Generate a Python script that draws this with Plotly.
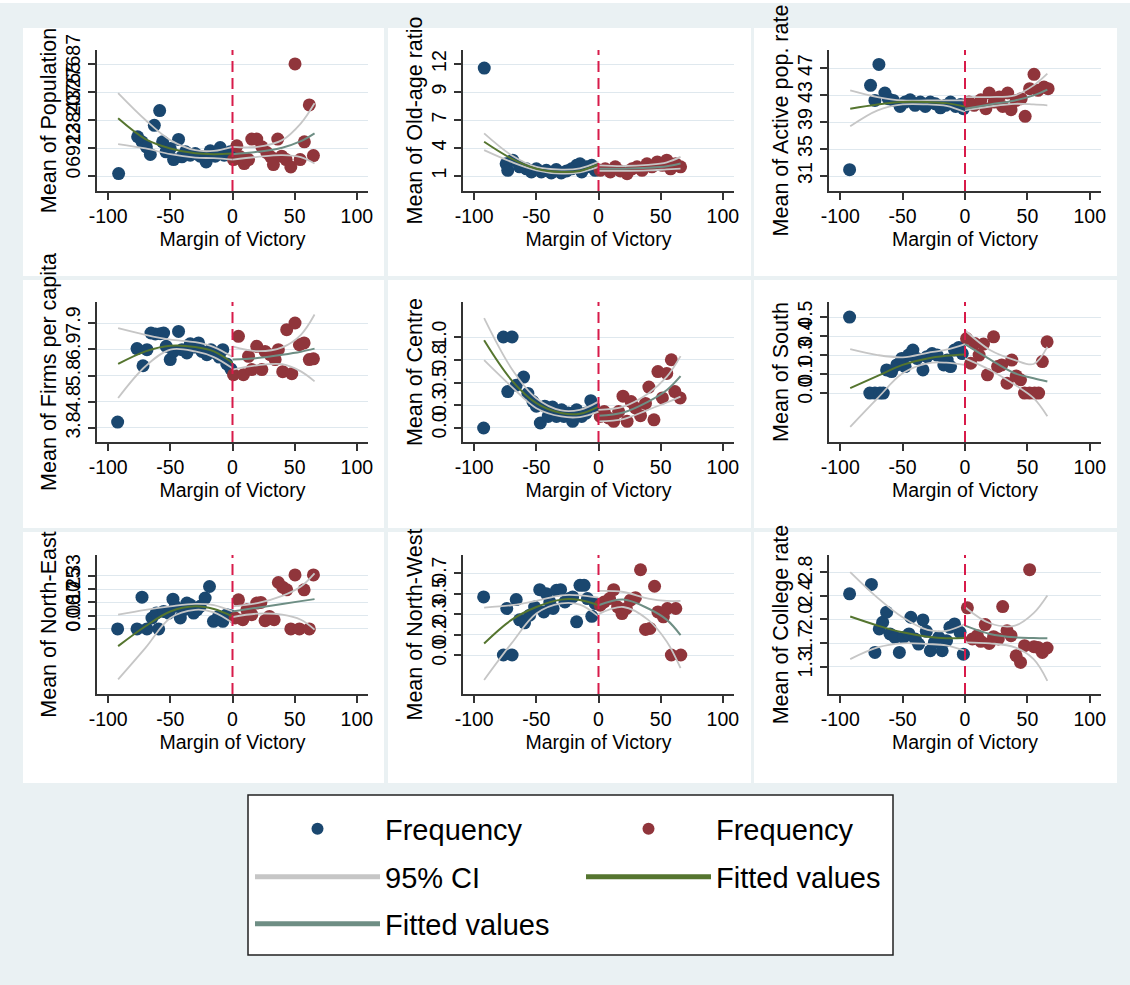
import plotly.graph_objects as go

# ---------------- data ----------------
X_TICKS = [-100, -50, 0, 50, 100]
X_TICKTEXT = ["-100", "-50", "0", "50", "100"]
LEFT_X = [-92, -70, -50, -30, -15, 0]      # x grid of the left fitted line / CI
RIGHT_X = [0, 20, 40, 55, 66]              # x grid of the right fitted line / CI

# 1. Population
pop_bx = [-91.6, -58.6, -62.9, -76.3, -72.8, -69.3, -66.1, -56.2, -53.5, -50.1, -47.4, -43.4, -40.7, -37.8, -34, -30, -26, -21.2, -17.9, -13.9, -9.9, -6.7, -1.9]
pop_by = [600, 16170, 12520, 9700, 8460, 7210, 5310, 8460, 5970, 6800, 4060, 9040, 4730, 5970, 5140, 5550, 4890, 3480, 6220, 4890, 7050, 5140, 5970]
pop_rx = [0.8, 3.5, 6.2, 9.4, 12.9, 15.5, 19.5, 23.6, 27.6, 30.8, 32.9, 36.4, 39.6, 43.1, 46.9, 50.3, 54.4, 57.8, 61.8, 65.1]
pop_ry = [4060, 7460, 4730, 3070, 4060, 9120, 9120, 7210, 5800, 4730, 2820, 9120, 4890, 4060, 2240, 27700, 4060, 8460, 17580, 5060]
pop_fit_l = [14260, 9120, 6800, 5600, 5390, 5550]
pop_cil_hi = [20480, 13840, 8870, 6380, 6200, 7210]
pop_cil_lo = [7880, 6800, 5390, 4560, 4400, 4060]
pop_fit_r = [5390, 5970, 7000, 8600, 10530]
pop_cir_hi = [7210, 7210, 8870, 13020, 17990]
pop_cir_lo = [4060, 4730, 5140, 4640, 3070]
pop_ticks = [0, 6922, 13843, 20765, 27687]
pop_ticktext = ["0", "6922", "13843", "20765", "27687"]

# 2. Old-age ratio
old_bx = [-91.9, -74.3, -73, -69, -63.5, -58, -54, -50, -46, -42, -38, -34, -30, -25.7, -21.6, -17.6, -14.9, -13.5, -9.5, -5.4, -2.7]
old_by = [11.6, 2.2, 1.56, 2.55, 1.9, 1.7, 1.4, 1.7, 1.4, 1.56, 1.3, 1.63, 1.3, 1.5, 1.7, 2.05, 2.2, 1.4, 1.9, 2.05, 1.56]
old_rx = [1.4, 5.4, 9.5, 13.5, 17.6, 23, 27, 31, 35, 39, 43, 47.3, 51.4, 54.9, 58, 62, 66]
old_ry = [1.56, 1.7, 1.4, 1.9, 1.5, 1.23, 1.7, 1.9, 1.56, 2.2, 1.9, 2.38, 2.05, 2.55, 1.7, 2.2, 1.9]
old_fit_l = [4.36, 2.71, 1.72, 1.4, 1.5, 2.15]
old_cil_hi = [5.18, 3.04, 1.89, 1.63, 1.75, 2.38]
old_cil_lo = [3.54, 2.38, 1.56, 1.23, 1.35, 1.89]
old_fit_r = [1.72, 1.72, 1.8, 1.95, 2.22]
old_cir_hi = [2.05, 1.98, 2.1, 2.35, 2.88]
old_cir_lo = [1.5, 1.5, 1.55, 1.65, 1.72]
old_ticks = [1, 3.75, 6.5, 9.25, 12]
old_ticktext = ["1", "4", "7", "9", "12"]

# 3. Active pop. rate
act_bx = [-92.5, -75.7, -69, -64.2, -72.2, -61.5, -57.4, -52, -48, -44, -40, -35.8, -31.8, -27.8, -23.7, -19.7, -15.6, -11.6, -7.5, -3.5, -1.3]
act_by = [31.94, 44.43, 47.54, 43.3, 42.2, 42.46, 42.2, 41.3, 41.96, 42.3, 41.47, 41.96, 41.3, 41.96, 41.7, 41.1, 41.47, 41.96, 41.3, 41.6, 40.97]
act_rx = [3.2, 7.3, 12.7, 16.7, 19.4, 23.5, 27.5, 30.2, 34.2, 36.9, 41, 45, 48.2, 51.8, 55.3, 58.5, 63.3, 66.6]
act_ry = [41.96, 41.47, 42.3, 40.97, 43.3, 41.96, 42.7, 41.3, 43.3, 40.83, 42.2, 42.46, 39.84, 43.94, 46.06, 43.69, 44.18, 43.94]
act_fit_l = [40.97, 41.6, 41.96, 41.95, 41.8, 41.3]
act_cil_hi = [43.69, 42.7, 42.2, 42.2, 42.2, 42.2]
act_cil_lo = [38.36, 40.73, 41.6, 41.6, 41.4, 40.48]
act_fit_r = [40.97, 41.6, 42.2, 42.95, 43.8]
act_cir_hi = [42.7, 42.7, 42.95, 44.43, 46.16]
act_cir_lo = [40.73, 41.3, 41.7, 41.6, 41.47]
act_ticks = [31, 35, 39, 43, 47]
act_ticktext = ["31", "35", "39", "43", "47"]

# 4. Firms per capita
fir_bx = [-92.4, -76.8, -72, -68.8, -65.6, -62.1, -58.1, -55.4, -53.3, -50.1, -47.4, -43.4, -40.7, -36.7, -34, -30.8, -27.3, -24.6, -20.6, -17.4, -13.9, -10.7, -7.8, -4.6, -1.3]
fir_by = [4.03, 6.9, 6.23, 6.86, 7.51, 7.47, 7.48, 7.51, 6.99, 6.47, 6.79, 7.57, 6.86, 6.73, 7.09, 6.96, 7.12, 6.79, 6.66, 6.86, 6.73, 6.57, 6.86, 6.3, 6.1]
fir_rx = [0.8, 4.8, 8.8, 12.9, 15.5, 19.5, 23.6, 26.2, 30.3, 34.3, 36.9, 40.4, 43.6, 47.7, 50.3, 53.8, 57.6, 61.8, 65.1]
fir_ry = [5.88, 7.38, 5.88, 6.6, 6.08, 6.99, 6.08, 6.79, 6.66, 6.47, 6.86, 6.0, 7.64, 5.92, 7.9, 7.05, 7.12, 6.47, 6.5]
fir_fit_l = [6.3, 6.79, 7.01, 6.96, 6.79, 6.34]
fir_cil_hi = [7.7, 7.44, 7.25, 7.15, 6.96, 6.57]
fir_cil_lo = [4.97, 6.21, 6.86, 6.79, 6.57, 6.13]
fir_fit_r = [6.47, 6.53, 6.66, 6.78, 6.9]
fir_cir_hi = [6.99, 6.8, 6.95, 7.44, 8.23]
fir_cir_lo = [6.08, 6.25, 6.29, 6.01, 5.62]
fir_ticks = [3.8, 4.825, 5.85, 6.875, 7.9]
fir_ticktext = ["3.8", "4.8", "5.8", "6.9", "7.9"]

# 5. Centre
cen_bx = [-92.4, -76.5, -69.5, -73, -66.2, -60.3, -56.8, -52.7, -50, -46.8, -43.2, -40.5, -37, -33.8, -29.7, -27.8, -24.3, -20.8, -17.6, -13.5, -10, -6.2, -4.1]
cen_by = [0.0, 1.0, 1.0, 0.4, 0.47, 0.56, 0.38, 0.29, 0.24, 0.055, 0.24, 0.127, 0.23, 0.127, 0.2, 0.127, 0.164, 0.073, 0.2, 0.127, 0.164, 0.3, 0.24]
cen_rx = [1.4, 4.6, 8.1, 12.2, 16.2, 19.7, 23, 26.2, 29.7, 33.8, 37.8, 40.5, 44.6, 47.8, 51.4, 54.9, 58.6, 61.4, 65.7]
cen_ry = [0.127, 0.18, 0.11, 0.073, 0.18, 0.35, 0.073, 0.29, 0.22, 0.135, 0.27, 0.45, 0.09, 0.62, 0.33, 0.6, 0.75, 0.4, 0.33]
cen_fit_l = [0.964, 0.527, 0.273, 0.164, 0.156, 0.236]
cen_cil_hi = [1.207, 0.655, 0.327, 0.193, 0.2, 0.29]
cen_cil_lo = [0.745, 0.455, 0.218, 0.127, 0.12, 0.18]
cen_fit_r = [0.135, 0.171, 0.29, 0.418, 0.57]
cen_cir_hi = [0.2, 0.236, 0.38, 0.564, 0.79]
cen_cir_lo = [0.073, 0.098, 0.2, 0.28, 0.345]
cen_ticks = [0, 0.25, 0.5, 0.75, 1.0]
cen_ticktext = ["0.0", "0.3", "0.5", "0.8", "1.0"]

# 6. South
sou_bx = [-92.5, -76.3, -72.2, -68.2, -65.5, -62.8, -58.8, -54.7, -50.7, -48, -45.3, -41.8, -38.5, -33.7, -30.5, -26.4, -22.4, -17, -14.3, -11.6, -8.4, -4.9, -2.2]
sou_by = [0.5, 0, 0, 0, 0, 0.152, 0.141, 0.185, 0.228, 0.174, 0.25, 0.283, 0.228, 0.152, 0.239, 0.26, 0.25, 0.185, 0.217, 0.174, 0.283, 0.3, 0.26]
sou_rx = [1.3, 4.6, 7.8, 11.3, 14.8, 18, 22.9, 26.1, 29.4, 33.7, 37.5, 41, 44.5, 47.7, 51.8, 55.8, 59, 62, 65.8]
sou_ry = [0.359, 0.196, 0.326, 0.25, 0.322, 0.12, 0.37, 0.174, 0.185, 0.065, 0.217, 0.113, 0.087, 0, 0, 0, 0, 0.207, 0.337]
sou_fit_l = [0.033, 0.113, 0.185, 0.228, 0.245, 0.254]
sou_cil_hi = [0.289, 0.25, 0.235, 0.265, 0.285, 0.322]
sou_cil_lo = [-0.222, -0.033, 0.13, 0.196, 0.2, 0.185]
sou_fit_r = [0.322, 0.222, 0.13, 0.098, 0.076]
sou_cir_hi = [0.413, 0.283, 0.217, 0.191, 0.304]
sou_cir_lo = [0.228, 0.152, 0.054, -0.033, -0.152]
sou_ticks = [0, 0.125, 0.25, 0.375, 0.5]
sou_ticktext = ["0.0", "0.1", "0.3", "0.4", "0.5"]

# 7. North-East
nea_bx = [-92.4, -76.8, -72.8, -68.8, -64.8, -61.3, -59.4, -55.4, -51.4, -47.9, -46, -42, -39.4, -36.7, -34, -31.3, -28.6, -26, -22, -18.5, -15.3, -11.2, -7.8, -4.6, -1.3]
nea_by = [0, 0, 0.2, 0, 0.069, 0.1, 0, 0.11, 0.1, 0.1875, 0.142, 0.069, 0.12, 0.1625, 0.152, 0.1, 0.12, 0.142, 0.194, 0.267, 0.048, 0.079, 0.048, 0.09, 0.083]
nea_rx = [2.1, 4.8, 8.3, 11.5, 15.5, 19.5, 22.8, 26.2, 29.7, 33.5, 36.9, 40.4, 43.6, 46.9, 50.3, 53.8, 57.6, 61.8, 65.1]
nea_ry = [0.069, 0.183, 0.058, 0.12, 0.09, 0.1625, 0.167, 0.052, 0.079, 0.058, 0.292, 0.2625, 0.246, 0, 0.34, 0, 0.246, 0, 0.34]
nea_fit_l = [-0.108, 0.017, 0.11, 0.142, 0.125, 0.079]
nea_cil_hi = [0.09, 0.12, 0.142, 0.158, 0.15, 0.11]
nea_cil_lo = [-0.317, -0.119, 0.069, 0.12, 0.104, 0.0375]
nea_fit_r = [0.11, 0.134, 0.157, 0.175, 0.1875]
nea_cir_hi = [0.142, 0.1625, 0.208, 0.267, 0.35]
nea_cir_lo = [0.075, 0.096, 0.09, 0.058, -0.004]
nea_ticks = [0, 0.0833, 0.1667, 0.25, 0.3333]
nea_ticktext = ["0", "0.08", "0.17", "0.25", "0.33"]

# 8. North-West
nwe_bx = [-92.4, -76.5, -69.5, -73.8, -66.2, -63.5, -59.5, -55.4, -51.4, -47.3, -44, -41.9, -39.2, -36.5, -33.8, -30.5, -27, -23.5, -20.8, -17.6, -14.9, -11.6, -8.9, -5.4, -2.7]
nwe_by = [0.496, 0, 0, 0.397, 0.473, 0.3, 0.275, 0.34, 0.41, 0.558, 0.368, 0.524, 0.453, 0.397, 0.553, 0.558, 0.453, 0.482, 0.496, 0.283, 0.595, 0.595, 0.482, 0.33, 0.44]
nwe_rx = [1.4, 4.6, 8.9, 12.2, 15.4, 18.9, 22.4, 25.7, 29.7, 33.8, 37.8, 41.4, 45.1, 47.8, 52.2, 55.4, 58.6, 62.2, 66.2]
nwe_ry = [0.425, 0.453, 0.482, 0.558, 0.41, 0.354, 0.397, 0.468, 0.49, 0.728, 0.218, 0.227, 0.587, 0.368, 0.326, 0.397, 0, 0.397, 0]
nwe_fit_l = [0.099, 0.3, 0.41, 0.473, 0.47, 0.425]
nwe_cil_hi = [0.405, 0.425, 0.462, 0.51, 0.51, 0.49]
nwe_cil_lo = [-0.213, 0.099, 0.354, 0.44, 0.43, 0.33]
nwe_fit_r = [0.425, 0.473, 0.397, 0.3, 0.17]
nwe_cir_hi = [0.547, 0.538, 0.482, 0.462, 0.462]
nwe_cir_lo = [0.349, 0.41, 0.3, 0.113, -0.113]
nwe_ticks = [0, 0.175, 0.35, 0.525, 0.7]
nwe_ticktext = ["0.0", "0.2", "0.3", "0.5", "0.7"]

# 9. College rate
col_bx = [-92.5, -75, -72.2, -68.7, -66, -62.8, -60.1, -56.1, -52.6, -49.3, -44.9, -43.4, -39.9, -37.2, -33.7, -31, -27.8, -24.5, -21, -18.3, -14.8, -12.1, -8.4, -4, -1.3]
col_by = [2.455, 2.604, 1.528, 1.9, 2.005, 2.164, 1.82, 1.766, 1.528, 1.766, 1.82, 2.084, 1.74, 1.66, 2.042, 1.862, 1.554, 1.687, 1.766, 1.554, 1.713, 1.925, 1.978, 1.846, 1.5]
col_rx = [1.9, 5.9, 9.9, 12.7, 16.2, 19.4, 22.9, 26.7, 30.2, 33.7, 36.9, 41, 44.5, 47.7, 51.8, 55.3, 58.5, 62, 65.8]
col_ry = [2.233, 1.74, 1.793, 1.703, 1.968, 1.67, 1.777, 1.74, 2.254, 1.872, 1.793, 1.475, 1.369, 1.634, 2.837, 1.618, 1.607, 1.528, 1.597]
col_fit_l = [2.095, 1.952, 1.846, 1.777, 1.752, 1.756]
col_cil_hi = [2.8, 2.392, 2.084, 1.883, 1.87, 1.978]
col_cil_lo = [1.422, 1.607, 1.671, 1.66, 1.64, 1.554]
col_fit_r = [1.952, 1.82, 1.766, 1.755, 1.75]
col_cir_hi = [2.243, 1.989, 1.952, 2.15, 2.429]
col_cir_lo = [1.687, 1.671, 1.607, 1.42, 1.077]
col_ticks = [1.3, 1.675, 2.05, 2.425, 2.8]
col_ticktext = ["1.3", "1.7", "2.0", "2.4", "2.8"]

TITLES = ["Mean of Population", "Mean of Old-age ratio", "Mean of Active pop. rate",
          "Mean of Firms per capita", "Mean of Centre", "Mean of South",
          "Mean of North-East", "Mean of North-West", "Mean of College rate"]

# ---------------- build ----------------
panels = [
    (pop_bx, pop_by, pop_rx, pop_ry, pop_fit_l, pop_cil_hi, pop_cil_lo, pop_fit_r, pop_cir_hi, pop_cir_lo, pop_ticks, pop_ticktext, [-3708, 31148]),
    (old_bx, old_by, old_rx, old_ry, old_fit_l, old_cil_hi, old_cil_lo, old_fit_r, old_cir_hi, old_cir_lo, old_ticks, old_ticktext, [-0.473, 13.375]),
    (act_bx, act_by, act_rx, act_ry, act_fit_l, act_cil_hi, act_cil_lo, act_fit_r, act_cir_hi, act_cir_lo, act_ticks, act_ticktext, [28.78, 49.67]),
    (fir_bx, fir_by, fir_rx, fir_ry, fir_fit_l, fir_cil_hi, fir_cil_lo, fir_fit_r, fir_cir_hi, fir_cir_lo, fir_ticks, fir_ticktext, [3.253, 8.72]),
    (cen_bx, cen_by, cen_rx, cen_ry, cen_fit_l, cen_cil_hi, cen_cil_lo, cen_fit_r, cen_cir_hi, cen_cir_lo, cen_ticks, cen_ticktext, [-0.154, 1.385]),
    (sou_bx, sou_by, sou_rx, sou_ry, sou_fit_l, sou_cil_hi, sou_cil_lo, sou_fit_r, sou_cir_hi, sou_cir_lo, sou_ticks, sou_ticktext, [-0.322, 0.599]),
    (nea_bx, nea_by, nea_rx, nea_ry, nea_fit_l, nea_cil_hi, nea_cil_lo, nea_fit_r, nea_cir_hi, nea_cir_lo, nea_ticks, nea_ticktext, [-0.409, 0.465]),
    (nwe_bx, nwe_by, nwe_rx, nwe_ry, nwe_fit_l, nwe_cil_hi, nwe_cil_lo, nwe_fit_r, nwe_cir_hi, nwe_cir_lo, nwe_ticks, nwe_ticktext, [-0.333, 0.854]),
    (col_bx, col_by, col_rx, col_ry, col_fit_l, col_cil_hi, col_cil_lo, col_fit_r, col_cir_hi, col_cir_lo, col_ticks, col_ticktext, [0.869, 3.07]),
]

W, H = 1130, 985
FONT = "Liberation Sans, Arial, sans-serif"
BG = "#eaf1f3"
BLUE = "#1a476f"
RED = "#90353b"
GREEN = "#55752f"
TEAL = "#6e8e84"
CI = "#c6c6c6"
AX = "#333333"
GRID = "#dfe8ee"

col_px = [(97, 368), (463, 734), (829, 1101)]
row_px = [(50, 191), (302, 442), (555, 694)]
panel_col = [(23, 384), (388, 751), (754, 1117)]
panel_row = [(28, 276), (280, 528), (532, 783)]

fig = go.Figure()
shapes = []
layout_axes = {}

def px_x(v):
    return v / W

def px_y(v):
    return 1 - v / H

# background panels
shapes.append(dict(type="rect", xref="paper", yref="paper", x0=0, x1=1, y0=px_y(3), y1=1,
                   fillcolor="white", line=dict(width=0), layer="below"))
for (r0, r1) in panel_row:
    for (c0, c1) in panel_col:
        shapes.append(dict(type="rect", xref="paper", yref="paper",
                           x0=px_x(c0), x1=px_x(c1), y0=px_y(r1), y1=px_y(r0),
                           fillcolor="white", line=dict(width=0), layer="below"))
# legend box
shapes.append(dict(type="rect", xref="paper", yref="paper",
                   x0=px_x(248), x1=px_x(893), y0=px_y(955), y1=px_y(795),
                   fillcolor="white", line=dict(color="#222222", width=1.5), layer="below"))

for i, p in enumerate(panels):
    (bx, by, rx, ry, fit_l, cil_hi, cil_lo, fit_r, cir_hi, cir_lo, ticks, ticktext, yr) = p
    k = i + 1
    xa = "x" if k == 1 else f"x{k}"
    ya = "y" if k == 1 else f"y{k}"
    first = (k == 1)
    fig.add_trace(go.Scatter(x=bx, y=by, mode="markers", xaxis=xa, yaxis=ya,
                             marker=dict(color=BLUE, size=13, line=dict(width=0)),
                             name="Frequency", legend="legend", showlegend=first,
                             legendgroup="blue"))
    fig.add_trace(go.Scatter(x=rx, y=ry, mode="markers", xaxis=xa, yaxis=ya,
                             marker=dict(color=RED, size=13, line=dict(width=0)),
                             name="Frequency", legend="legend", showlegend=first,
                             legendgroup="red"))
    ci_x = LEFT_X + [None] + LEFT_X + [None] + RIGHT_X + [None] + RIGHT_X
    ci_y = cil_hi + [None] + cil_lo + [None] + cir_hi + [None] + cir_lo
    fig.add_trace(go.Scatter(x=ci_x, y=ci_y, mode="lines", xaxis=xa, yaxis=ya,
                             line=dict(color=CI, width=1.8, shape="spline"),
                             connectgaps=False, name="95% CI", legend="legend2",
                             showlegend=first, legendgroup="ci"))
    fig.add_trace(go.Scatter(x=LEFT_X, y=fit_l, mode="lines", xaxis=xa, yaxis=ya,
                             line=dict(color=GREEN, width=2, shape="spline"),
                             name="Fitted values", legend="legend2", showlegend=first,
                             legendgroup="fitl"))
    fig.add_trace(go.Scatter(x=RIGHT_X, y=fit_r, mode="lines", xaxis=xa, yaxis=ya,
                             line=dict(color=TEAL, width=2, shape="spline"),
                             name="Fitted values", legend="legend3", showlegend=first,
                             legendgroup="fitr"))

    r, c = divmod(i, 3)
    xd = [px_x(col_px[c][0]), px_x(col_px[c][1])]
    yd = [px_y(row_px[r][1]), px_y(row_px[r][0])]
    xkey = "xaxis" if k == 1 else f"xaxis{k}"
    ykey = "yaxis" if k == 1 else f"yaxis{k}"
    layout_axes[xkey] = dict(
        domain=xd, anchor=ya, range=[-109, 109], tickvals=X_TICKS, ticktext=X_TICKTEXT,
        showgrid=False, zeroline=False, showline=True, linecolor=AX, linewidth=1.5,
        ticks="outside", ticklen=7, tickwidth=1.5, tickcolor=AX,
        tickfont=dict(family=FONT, size=19.5, color="black"),
        title=dict(text="Margin of Victory", font=dict(family=FONT, size=19.5, color="black"), standoff=6),
        automargin=False, fixedrange=True)
    layout_axes[ykey] = dict(
        domain=yd, anchor=xa, range=yr, tickvals=ticks, ticktext=ticktext, tickangle=-90,
        showgrid=True, gridcolor=GRID, gridwidth=1.2, zeroline=False,
        showline=True, linecolor=AX, linewidth=1.5,
        ticks="outside", ticklen=7, tickwidth=1.5, tickcolor=AX,
        tickfont=dict(family=FONT, size=19.5, color="black"),
        title=dict(text=TITLES[i], font=dict(family=FONT, size=21.5, color="black"), standoff=0),
        automargin=False, fixedrange=True)
    shapes.append(dict(type="line", xref=xa, yref=f"{ya} domain", x0=0, x1=0, y0=0, y1=1,
                       line=dict(color="#d81b4a", width=2, dash="11px,6px"), layer="above"))

legend_common = dict(orientation="h", xanchor="left", yanchor="middle",
                     itemwidth=125, entrywidth=191, entrywidthmode="pixels",
                     font=dict(family=FONT, size=29, color="black"),
                     bgcolor="rgba(0,0,0,0)", borderwidth=0, itemsizing="constant",
                     traceorder="normal", itemclick=False, itemdoubleclick=False)

fig.update_layout(
    width=W, height=H, margin=dict(l=0, r=0, t=0, b=0),
    paper_bgcolor=BG, plot_bgcolor="white",
    font=dict(family=FONT, color="black"),
    shapes=shapes,
    legend=dict(x=px_x(250), y=px_y(829), **legend_common),
    legend2=dict(x=px_x(250), y=px_y(877), **legend_common),
    legend3=dict(x=px_x(250), y=px_y(924), **legend_common),
    **layout_axes,
)

fig.write_html(
    "out.html",
    config={"displayModeBar": False},
    post_script="document.body.style.margin='0px';document.body.style.overflow='hidden';"
                "document.documentElement.style.overflow='hidden';",
)
